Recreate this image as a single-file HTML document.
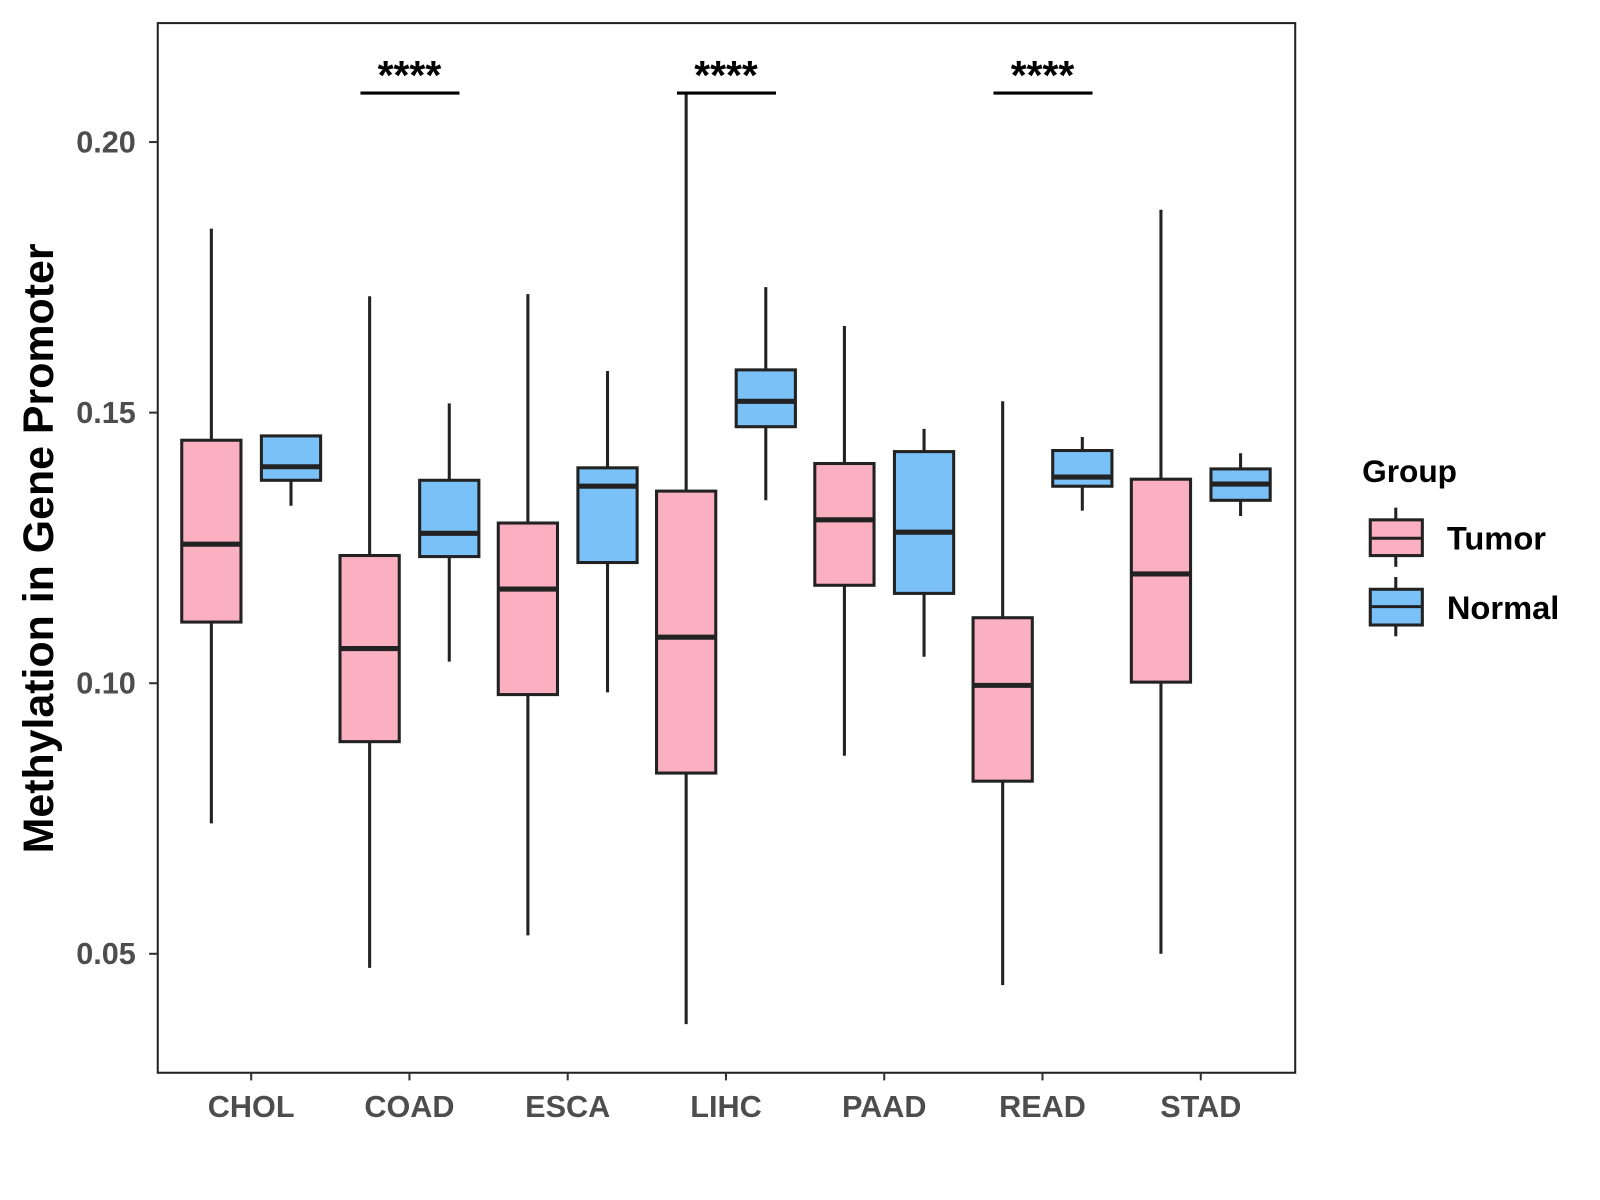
<!DOCTYPE html>
<html><head><meta charset="utf-8"><style>
body{margin:0;background:#fff;}
svg{display:block;}
svg text{font-family:"Liberation Sans",Arial,sans-serif;font-weight:bold;}
</style></head><body>
<svg id="chart" width="1600" height="1200" viewBox="0 0 1567 1175" xmlns="http://www.w3.org/2000/svg">
<rect x="154.5" y="22.5" width="1114" height="1028" fill="#fff" stroke="#222" stroke-width="2"/>
<g id="yaxis"></g>
<g id="xaxis"></g>
<g id="boxes"></g>
<g id="sig"></g>
<text x="52" y="537" font-size="42" text-anchor="middle" transform="rotate(-90 52 537)" fill="#000">Methylation in Gene Promoter</text>
<g>
<text x="1334" y="472" font-size="31" fill="#000">Group</text>
<g>
<line x1="1367" y1="497" x2="1367" y2="555" stroke="#222" stroke-width="3"/>
<rect x="1342" y="509" width="51" height="35" fill="#FBB0C1" stroke="#222" stroke-width="3"/>
<line x1="1342" y1="527" x2="1393" y2="527" stroke="#222" stroke-width="3"/>
<text x="1417" y="538" font-size="32" fill="#000">Tumor</text></g>
<g>
<line x1="1367" y1="565" x2="1367" y2="623" stroke="#222" stroke-width="3"/>
<rect x="1342" y="577" width="51" height="35" fill="#7AC1F8" stroke="#222" stroke-width="3"/>
<line x1="1342" y1="594" x2="1393" y2="594" stroke="#222" stroke-width="3"/>
<text x="1417" y="606" font-size="32" fill="#000">Normal</text></g>
</g>
</svg>
<script>
const categories=["CHOL","COAD","ESCA","LIHC","PAAD","READ","STAD"];
// [min, q1, median, q3, max]
const tumorStats=[[0.0741,0.1113,0.1257,0.1449,0.1840],[0.0474,0.0892,0.1064,0.1236,0.1715],[0.0534,0.0979,0.1174,0.1296,0.1719],[0.0370,0.0834,0.1085,0.1355,0.2089],[0.0866,0.1181,0.1302,0.1406,0.1660],[0.0442,0.0819,0.0996,0.1121,0.1521],[0.0500,0.1002,0.1202,0.1377,0.1875]];
const normalStats=[[0.1328,0.1375,0.1400,0.1457,0.1457],[0.1040,0.1234,0.1277,0.1375,0.1517],[0.0983,0.1223,0.1364,0.1398,0.1577],[0.1338,0.1474,0.1521,0.1579,0.1732],[0.1049,0.1166,0.1279,0.1428,0.1470],[0.1319,0.1364,0.1381,0.1430,0.1455],[0.1309,0.1338,0.1368,0.1396,0.1425]];
const yTicks=[0.05,0.10,0.15,0.20];
const sigCategories=["COAD","LIHC","READ"];
const sigLabels=["****","****","****"];

const NS="http://www.w3.org/2000/svg";
function y(v){return 669-(v-0.10)*5300;}
function x(i){return 246+i*155;}
function el(tag,attrs,parent){const e=document.createElementNS(NS,tag);for(const k in attrs)e.setAttribute(k,attrs[k]);parent.appendChild(e);return e;}
const ya=document.getElementById('yaxis'),xa=document.getElementById('xaxis'),bx=document.getElementById('boxes'),sg=document.getElementById('sig');
yTicks.forEach(t=>{
  const l=el('line',{x1:146,x2:154,y1:y(t),y2:y(t),stroke:'#333','stroke-width':2},ya);
  
  
  const tx=el('text',{x:133,y:y(t)+10,'font-size':30,'text-anchor':'end',fill:'#4d4d4d'},ya);
  tx.textContent=t.toFixed(2);
  
  
});
categories.forEach((c,i)=>{
  const l=el('line',{x1:x(i),x2:x(i),y1:1050,y2:1058,stroke:'#333','stroke-width':2},xa);
  
  
  const tx=el('text',{x:x(i),y:1094,'font-size':30,'text-anchor':'middle',fill:'#4d4d4d'},xa);
  tx.textContent=c;
  
  
});
function box(cx,s,fill,name){
  const g=el('g',{},bx);
  
  
  el('line',{x1:cx,x2:cx,y1:y(s[0]),y2:y(s[4]),stroke:'#222','stroke-width':3},g);
  el('rect',{x:cx-29,y:y(s[3]),width:58,height:y(s[1])-y(s[3]),fill:fill,stroke:'#222','stroke-width':3},g);
  el('line',{x1:cx-29,x2:cx+29,y1:y(s[2]),y2:y(s[2]),stroke:'#222','stroke-width':5},g);
}
categories.forEach((c,i)=>{
  box(x(i)-39,tumorStats[i],'#FBB0C1','box-'+c.toLowerCase()+'-tumor');
  box(x(i)+39,normalStats[i],'#7AC1F8','box-'+c.toLowerCase()+'-normal');
});
sigCategories.forEach((c,k)=>{
  const i=categories.indexOf(c);
  const l=el('line',{x1:x(i)-48,x2:x(i)+49,y1:91,y2:91,stroke:'#000','stroke-width':3},sg);
  
  
  const t=el('text',{x:x(i),y:87,'font-size':40,'text-anchor':'middle',fill:'#000'},sg);
  t.textContent=sigLabels[k];
  
  
});
</script>
</body></html>
